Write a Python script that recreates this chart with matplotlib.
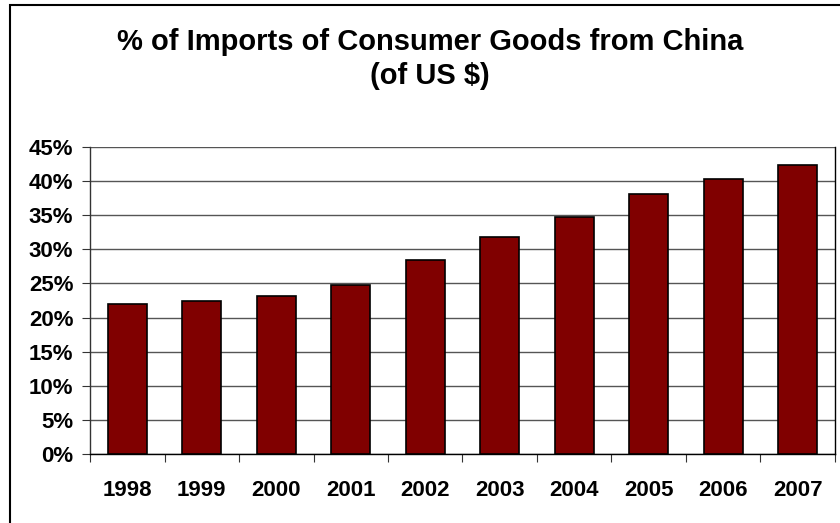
import matplotlib
matplotlib.use('Agg')
import matplotlib.pyplot as plt
import numpy as np
from matplotlib.patches import Rectangle

plt.rcParams['font.family'] = ['Liberation Sans', 'DejaVu Sans']
plt.rcParams['font.weight'] = 'bold'

years = ['1998', '1999', '2000', '2001', '2002', '2003', '2004', '2005', '2006', '2007']
share = [22.0, 22.5, 23.1, 24.7, 28.5, 31.8, 34.7, 38.1, 40.3, 42.3]

W, H = 840, 523
fig = plt.figure(figsize=(W / 100, H / 100), dpi=100)

# outer chart-area frame (right and bottom edges run off the picture)
fig.patches.append(Rectangle((10 / W, -0.05), 1, 1.05 - 5 / H, transform=fig.transFigure,
                             fill=False, edgecolor='black', linewidth=1.5))

ax = fig.add_axes([90 / W, (H - 454) / H, (835 - 90) / W, (454 - 147) / H])

x = np.arange(len(years))
ax.bar(x, share, width=0.52, color='#800000', edgecolor='black', linewidth=1.2, zorder=3)

ax.set_xlim(-0.5, len(years) - 0.5)
ax.set_ylim(0, 45)
ax.set_yticks(np.arange(0, 46, 5))
ax.set_yticklabels(['%d%%' % v for v in range(0, 46, 5)], fontsize=16, fontweight='bold')
ax.yaxis.grid(True, color='#555555', linewidth=1.0, zorder=0)

# category ticks between bars, labels under bars
ax.set_xticks(np.arange(-0.5, len(years), 1))
ax.set_xticklabels([])
ax.set_xticks(x, minor=True)
ax.set_xticklabels(years, minor=True, fontsize=16, fontweight='bold')
ax.tick_params(axis='x', which='minor', length=0, pad=19)
ax.tick_params(axis='x', which='major', length=6, color='#333333')
ax.tick_params(axis='y', length=6, pad=6, color='#333333')

ax.spines['top'].set_visible(False)
ax.spines['right'].set_color('black')
ax.spines['left'].set_color('#333333')
ax.spines['bottom'].set_color('black')
for side in ['right', 'left', 'bottom']:
    ax.spines[side].set_linewidth(1.0)

fig.text(430 / W, 1 - 50 / H, '% of Imports of Consumer Goods from China',
         ha='center', va='baseline', fontsize=21, fontweight='bold')
fig.text(430 / W, 1 - 84 / H, '(of US $)',
         ha='center', va='baseline', fontsize=21, fontweight='bold')

fig.savefig('out.png', dpi=100)
